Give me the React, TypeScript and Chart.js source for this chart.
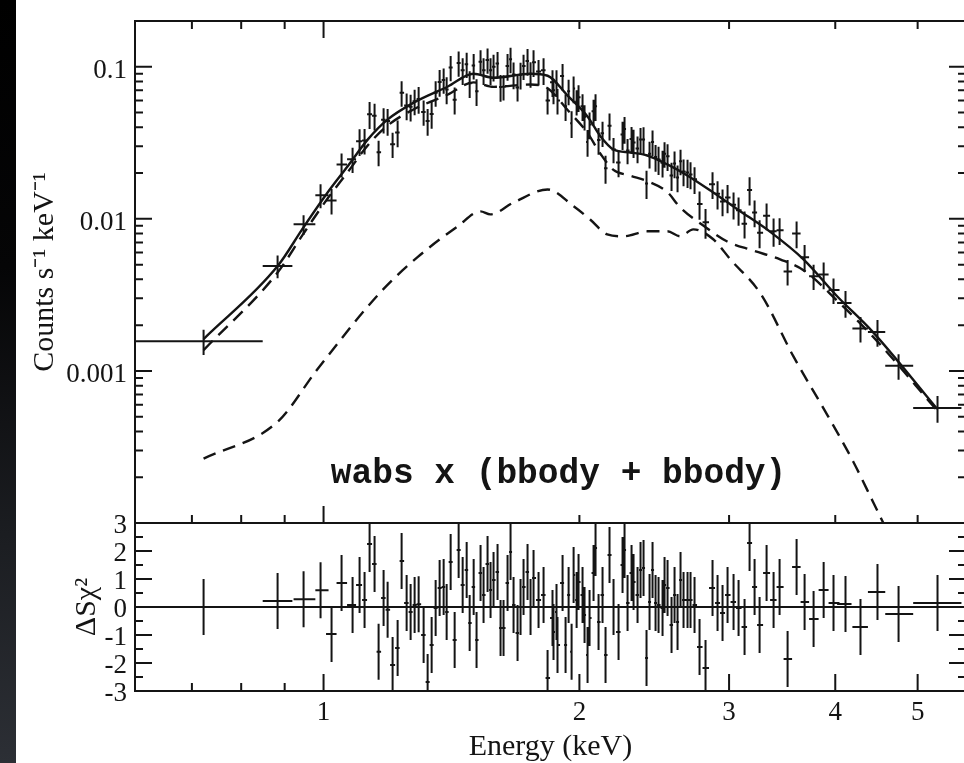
import React, { useEffect, useRef } from "react";
import { Chart, registerables } from "chart.js";

Chart.register(...registerables);

// ---------------- data ----------------
// bin centre energies (keV) shared by the spectrum and the residual panel
const energies = [
  0.7225, 0.8829, 0.9473, 0.9919, 1.0219, 1.05, 1.0818, 1.1025, 1.1175, 1.1328,
  1.1482, 1.1608, 1.1766, 1.1895, 1.2057, 1.2222, 1.2355, 1.2524, 1.266, 1.2798,
  1.2938, 1.3114, 1.3257, 1.3402, 1.3548, 1.3695, 1.3845, 1.3958, 1.411, 1.4264,
  1.4419, 1.4577, 1.4736, 1.4856, 1.5018, 1.5136, 1.5301, 1.5426, 1.5594, 1.5721,
  1.5849, 1.6022, 1.6153, 1.6284, 1.6462, 1.6596, 1.6732, 1.6914, 1.7052, 1.7191,
  1.7378, 1.752, 1.7663, 1.7904, 1.8149, 1.8347, 1.8594, 1.8645, 1.8797, 1.8848,
  1.9108, 1.9264, 1.9423, 1.9581, 1.9688, 1.9849, 1.9953, 2.017, 2.028, 2.0446,
  2.0557, 2.0781, 2.0893, 2.1064, 2.1293, 2.1467, 2.17, 2.1937, 2.2237, 2.2479,
  2.2601, 2.2786, 2.3034, 2.3159, 2.3411, 2.3602, 2.3795, 2.3988, 2.4185, 2.4382,
  2.4582, 2.4782, 2.5052, 2.5188, 2.5394, 2.567, 2.588, 2.6091, 2.6303, 2.6518,
  2.6807, 2.7025, 2.732, 2.7693, 2.8146, 2.8685, 2.9077, 2.9473, 2.9876, 3.0366,
  3.0781, 3.1285, 3.1713, 3.2146, 3.2585, 3.3208, 3.3844, 3.4399, 3.5153, 3.6021,
  3.681, 3.7718, 3.876, 3.9811, 4.1125, 4.2829, 4.4847, 4.7482, 5.2767,
];

// counts s^-1 keV^-1
const counts = [
  0.00157, 0.0049, 0.0092, 0.0143, 0.0132, 0.0228, 0.0247, 0.0324, 0.0327, 0.0488,
  0.0476, 0.0274, 0.0449, 0.044, 0.031, 0.037, 0.0675, 0.0556, 0.0545, 0.0593,
  0.0614, 0.0505, 0.044, 0.049, 0.0675, 0.0795, 0.082, 0.071, 0.099, 0.0608,
  0.106, 0.095, 0.104, 0.078, 0.102, 0.069, 0.108, 0.095, 0.111, 0.095,
  0.1, 0.105, 0.0735, 0.074, 0.101, 0.112, 0.089, 0.073, 0.0887, 0.101,
  0.109, 0.09, 0.107, 0.093, 0.095, 0.06, 0.079, 0.07, 0.079, 0.06,
  0.087, 0.055, 0.069, 0.0425, 0.072, 0.059, 0.063, 0.055, 0.047, 0.032,
  0.0417, 0.051, 0.055, 0.033, 0.0366, 0.0215, 0.041, 0.0286, 0.0235, 0.0359,
  0.039, 0.0282, 0.0335, 0.0318, 0.029, 0.0333, 0.0333, 0.0171, 0.0268, 0.032,
  0.0255, 0.0246, 0.0234, 0.0268, 0.0258, 0.0193, 0.0231, 0.0187, 0.0239, 0.0205,
  0.0202, 0.0196, 0.0182, 0.0125, 0.0095, 0.0169, 0.0146, 0.013, 0.0138, 0.0124,
  0.0114, 0.0093, 0.0155, 0.011, 0.0081, 0.0105, 0.0083, 0.0084, 0.0045, 0.008,
  0.0056, 0.0042, 0.0043, 0.0034, 0.0028, 0.0019, 0.0018, 0.00108, 0.00057,
];

// relative 1-sigma error of each count rate
const countRelErr = [
  0.19, 0.17, 0.15, 0.18, 0.19, 0.18, 0.19, 0.2, 0.19, 0.2,
  0.2, 0.19, 0.19, 0.2, 0.19, 0.2, 0.19, 0.2, 0.2, 0.19,
  0.2, 0.19, 0.2, 0.2, 0.19, 0.2, 0.19, 0.2, 0.19, 0.2,
  0.19, 0.2, 0.19, 0.2, 0.19, 0.2, 0.19, 0.2, 0.19, 0.2,
  0.2, 0.19, 0.2, 0.19, 0.2, 0.19, 0.2, 0.19, 0.2, 0.19,
  0.2, 0.19, 0.2, 0.19, 0.2, 0.19, 0.2, 0.19, 0.2, 0.19,
  0.2, 0.2, 0.19, 0.2, 0.2, 0.19, 0.2, 0.2, 0.19, 0.2,
  0.2, 0.19, 0.2, 0.2, 0.19, 0.21, 0.2, 0.19, 0.2, 0.21,
  0.2, 0.19, 0.2, 0.21, 0.2, 0.19, 0.2, 0.21, 0.2, 0.19,
  0.2, 0.21, 0.2, 0.19, 0.2, 0.21, 0.2, 0.2, 0.19, 0.2,
  0.21, 0.2, 0.2, 0.21, 0.22, 0.2, 0.21, 0.2, 0.21, 0.2,
  0.21, 0.2, 0.21, 0.2, 0.21, 0.2, 0.21, 0.2, 0.19, 0.2,
  0.2, 0.19, 0.2, 0.19, 0.2, 0.19, 0.2, 0.19, 0.2,
];

// residuals (sign(data-model) * delta chi^2), each with unit error
const residuals = [
  0.0, 0.21, 0.28, 0.6, -0.96, 0.86, 0.07, 0.79, 0.25, 2.25,
  1.54, -1.6, 0.32, -0.1, -2.07, -1.46, 1.64, 0.14, -0.18, 0.07,
  0.1, -1.0, -2.68, -1.36, -0.04, 0.68, 0.71, -0.18, 1.61, -1.18,
  2.04, 0.79, 1.32, -0.57, 0.71, -1.18, 1.21, 0.43, 1.54, 0.61,
  0.96, 1.25, -0.75, -0.75, 0.86, 1.96, 0.07, -0.93, 0.0, 0.71,
  1.25, 0.0, 1.04, 0.25, 0.43, -2.54, -0.39, -0.89, -0.18, -1.36,
  0.86, -1.36, 0.43, -1.6, 1.14, 0.25, 0.89, 0.43, -0.29, -1.71,
  -0.39, 1.21, 2.11, -0.54, 0.43, -1.71, 1.86, 0.0, -0.89, 1.5,
  2.04, 0.14, 1.21, 0.89, 0.43, 1.32, 1.39, -1.82, 0.18, 1.32,
  0.14, 0.07, -0.04, 0.79, 0.68, -0.64, 0.43, -0.54, 0.96, 0.25,
  0.25, 0.25, 0.07, -1.43, -2.18, 0.68, 0.14, -0.21, 0.43, 0.18,
  -0.04, -0.71, 2.29, 0.71, -0.64, 1.21, 0.25, 0.71, -1.86, 1.43,
  0.18, -0.43, 0.61, 0.14, 0.11, -0.71, 0.54, -0.25, 0.14,
];
const RESID_SIGMA = 1;

// explicit energy bin edges of the wide bins at both ends
const firstBinEdges = [
  [0.6, 0.848],
  [0.848, 0.919],
  [0.922, 0.978],
  [0.978, 1.0136],
];
const lastBinEdges = [
  [4.02, 4.18],
  [4.19, 4.37],
  [4.37, 4.58],
  [4.58, 4.94],
  [4.94, 5.63],
];

// total model (solid)
const modelE = [
  0.7225, 0.883, 0.947, 1.011, 1.067, 1.127, 1.189, 1.276, 1.399, 1.501, 1.585, 1.752, 1.835, 1.937,
  2.045, 2.118, 2.193, 2.297, 2.404, 2.538, 2.679, 2.874, 3.069, 3.36, 3.67, 4.02, 4.43, 5.27,
];
const modelTotal = [
  0.00162, 0.00489, 0.00879, 0.0149, 0.0221, 0.0332, 0.0449, 0.058, 0.0739, 0.09, 0.0847, 0.09, 0.0873, 0.0646,
  0.047, 0.0348, 0.0286, 0.0273, 0.0261, 0.0228, 0.0193, 0.0149, 0.01154, 0.00815, 0.00542, 0.0031, 0.0018, 0.000563,
];

// first bbody component (upper dashed)
const bbodyAE = [
  0.7225, 0.883, 0.947, 1.011, 1.067, 1.127, 1.189, 1.276, 1.399, 1.501, 1.585, 1.752, 1.835, 1.937, 2.045,
  2.118, 2.193, 2.297, 2.404, 2.538, 2.627, 2.8, 2.985, 3.2, 3.45, 3.67, 4.02, 4.43, 5.27,
];
const bbodyA = [
  0.00137, 0.00444, 0.008, 0.0136, 0.0202, 0.0304, 0.041, 0.0524, 0.0655, 0.079, 0.0738, 0.0765, 0.0722, 0.052, 0.0366,
  0.0267, 0.021, 0.0192, 0.0177, 0.015, 0.0119, 0.009, 0.0071, 0.0062, 0.0054, 0.0046, 0.0029, 0.00168, 0.00055,
];

// second bbody component (lower dashed)
const bbodyBE = [
  0.7225, 0.883, 0.984, 1.167, 1.29, 1.437, 1.53, 1.571, 1.673, 1.835, 1.969, 2.059, 2.157,
  2.253, 2.404, 2.538, 2.627, 2.723, 2.874, 3.01, 3.27, 3.57, 3.92, 4.2, 4.43, 4.7,
];
const bbodyB = [
  0.000265, 0.000463, 0.00103, 0.0033, 0.0056, 0.0089, 0.0112, 0.0107, 0.0128, 0.0156, 0.0121, 0.0099, 0.0079,
  0.00768, 0.00828, 0.00828, 0.00768, 0.00853, 0.00734, 0.00542, 0.0032, 0.00125, 0.000507, 0.000253, 0.000138, 0.00007,
];

// axes
const X_MIN = 0.6;
const X_MAX = 5.7;
const Y_MIN = 1e-4;
const Y_MAX = 0.2;
const R_MIN = -3;
const R_MAX = 3;

const countTickValues = [0.1, 0.01, 0.001];
const countTickLabels = ["0.1", "0.01", "0.001"];
const residTickValues = [3, 2, 1, 0, -1, -2, -3];
const residTickLabels = ["3", "2", "1", "0", "-1", "-2", "-3"];
const energyTickValues = [1, 2, 3, 4, 5];
const energyTickLabels = ["1", "2", "3", "4", "5"];
const energyMinorTicks = [0.7, 0.8, 0.9];
const zeroLineE = [X_MIN, X_MAX];
const zeroLineR = [0, 0];

const annotationText = "wabs x (bbody + bbody)";
const countsTitle = "Counts s\u207B\u00B9 keV\u207B\u00B9";
const residTitle = "\u0394S\u03C7\u00B2";
const energyTitle = "Energy (keV)";

// ---------------- drawing helpers ----------------
const INK = "#141414";
const SERIF = '"Liberation Serif", "Times New Roman", serif';
const MONO = '"Liberation Mono", "Courier New", monospace';
const MAJOR = 17;
const MINOR = 8;

function binEdges(i: number): [number, number] {
  if (i < firstBinEdges.length) return firstBinEdges[i] as [number, number];
  const k = i - (energies.length - lastBinEdges.length);
  if (k >= 0) return lastBinEdges[k] as [number, number];
  return [Math.sqrt(energies[i - 1] * energies[i]), Math.sqrt(energies[i] * energies[i + 1])];
}

function seg(ctx: CanvasRenderingContext2D, x1: number, y1: number, x2: number, y2: number) {
  ctx.moveTo(x1, y1);
  ctx.lineTo(x2, y2);
}

function clipArea(ctx: CanvasRenderingContext2D, a: any) {
  ctx.beginPath();
  ctx.rect(a.left, a.top, a.right - a.left, a.bottom - a.top);
  ctx.clip();
}

const topPlugin = {
  id: "topPanel",
  afterDatasetsDraw(chart: any) {
    const { ctx, chartArea: a, scales } = chart;
    const x = scales.x;
    const y = scales.y;
    ctx.save();
    clipArea(ctx, a);
    ctx.strokeStyle = INK;
    ctx.lineWidth = 2;
    ctx.beginPath();
    energies.forEach((e, i) => {
      const [lo, hi] = binEdges(i);
      const v = counts[i];
      const dv = v * countRelErr[i];
      const px = x.getPixelForValue(e);
      const py = y.getPixelForValue(v);
      seg(ctx, x.getPixelForValue(lo), py, x.getPixelForValue(hi), py);
      seg(ctx, px, y.getPixelForValue(v + dv), px, y.getPixelForValue(v - dv));
    });
    ctx.stroke();
    ctx.restore();
  },
  afterDraw(chart: any) {
    const { ctx, chartArea: a, scales } = chart;
    const x = scales.x;
    const y = scales.y;
    ctx.save();
    ctx.strokeStyle = INK;
    ctx.lineWidth = 2;
    ctx.strokeRect(a.left, a.top, a.right - a.left, a.bottom - a.top);
    ctx.beginPath();
    for (let d = -4; d <= -1; d++) {
      for (let m = 1; m <= 9; m++) {
        const v = m * Math.pow(10, d);
        if (v <= Y_MIN * 1.0001 || v >= Y_MAX) continue;
        const py = y.getPixelForValue(v);
        const len = m === 1 ? MAJOR : MINOR;
        seg(ctx, a.left, py, a.left + len, py);
        seg(ctx, a.right, py, a.right - len, py);
      }
    }
    [...energyMinorTicks, ...energyTickValues].forEach((e) => {
      const px = x.getPixelForValue(e);
      const len = e === 1 ? MAJOR : MINOR;
      seg(ctx, px, a.top, px, a.top + len);
      seg(ctx, px, a.bottom, px, a.bottom - len);
    });
    ctx.stroke();

    ctx.fillStyle = INK;
    ctx.font = `27px ${SERIF}`;
    ctx.textAlign = "right";
    ctx.textBaseline = "alphabetic";
    countTickValues.forEach((v, i) => {
      ctx.fillText(countTickLabels[i], a.left - 8, y.getPixelForValue(v) + 11);
    });

    ctx.save();
    ctx.translate(a.left - 82, (a.top + a.bottom) / 2);
    ctx.rotate(-Math.PI / 2);
    ctx.textAlign = "center";
    ctx.font = `30px ${SERIF}`;
    ctx.fillText(countsTitle, 0, 0);
    ctx.restore();

    ctx.font = `bold 34.5px ${MONO}`;
    ctx.textAlign = "center";
    ctx.fillText(annotationText, x.getPixelForValue(1.89), a.bottom - 40);
    ctx.restore();
  },
};

const residPlugin = {
  id: "residPanel",
  afterDatasetsDraw(chart: any) {
    const { ctx, chartArea: a, scales } = chart;
    const x = scales.x;
    const y = scales.y;
    ctx.save();
    clipArea(ctx, a);
    ctx.strokeStyle = INK;
    ctx.lineWidth = 2;
    ctx.beginPath();
    energies.forEach((e, i) => {
      const [lo, hi] = binEdges(i);
      const r = residuals[i];
      const px = x.getPixelForValue(e);
      const py = y.getPixelForValue(r);
      if (i > 0) seg(ctx, x.getPixelForValue(lo), py, x.getPixelForValue(hi), py);
      seg(ctx, px, y.getPixelForValue(r + RESID_SIGMA), px, y.getPixelForValue(r - RESID_SIGMA));
    });
    ctx.stroke();
    ctx.restore();
  },
  afterDraw(chart: any) {
    const { ctx, chartArea: a, scales } = chart;
    const x = scales.x;
    const y = scales.y;
    ctx.save();
    ctx.strokeStyle = INK;
    ctx.lineWidth = 2;
    ctx.strokeRect(a.left, a.top, a.right - a.left, a.bottom - a.top);
    ctx.beginPath();
    for (let v = R_MIN + 0.5; v < R_MAX; v += 0.5) {
      const py = y.getPixelForValue(v);
      const len = Number.isInteger(v) ? MAJOR : MINOR;
      seg(ctx, a.left, py, a.left + len, py);
      seg(ctx, a.right, py, a.right - len, py);
    }
    energyMinorTicks.forEach((e) => {
      const px = x.getPixelForValue(e);
      seg(ctx, px, a.bottom, px, a.bottom - MINOR);
    });
    energyTickValues.forEach((e) => {
      const px = x.getPixelForValue(e);
      seg(ctx, px, a.bottom, px, a.bottom - MAJOR);
    });
    ctx.stroke();

    ctx.fillStyle = INK;
    ctx.font = `27px ${SERIF}`;
    ctx.textAlign = "right";
    residTickValues.forEach((v, i) => {
      ctx.fillText(residTickLabels[i], a.left - 8, y.getPixelForValue(v) + 10);
    });
    ctx.textAlign = "center";
    energyTickValues.forEach((e, i) => {
      ctx.fillText(energyTickLabels[i], x.getPixelForValue(e), a.bottom + 29);
    });
    ctx.font = `30px ${SERIF}`;
    ctx.fillText(energyTitle, (a.left + a.right) / 2, a.bottom + 64);

    ctx.save();
    ctx.translate(a.left - 40, (a.top + a.bottom) / 2);
    ctx.rotate(-Math.PI / 2);
    ctx.textAlign = "center";
    ctx.font = `30px ${SERIF}`;
    ctx.fillText(residTitle, 0, 0);
    ctx.restore();
    ctx.restore();
  },
};

const pts = (xs: number[], ys: number[]) => xs.map((e, i) => ({ x: e, y: ys[i] }));

const baseOptions = (padding: any, yScale: any) => ({
  responsive: false,
  animation: false as const,
  devicePixelRatio: 1,
  events: [] as any[],
  layout: { padding },
  plugins: { legend: { display: false }, tooltip: { enabled: false }, title: { display: false } },
  scales: {
    x: { type: "logarithmic" as const, min: X_MIN, max: X_MAX, display: false },
    y: yScale,
  },
});

export default function App() {
  const topRef = useRef<HTMLCanvasElement | null>(null);
  const botRef = useRef<HTMLCanvasElement | null>(null);

  useEffect(() => {
    const lineStyle = {
      showLine: true,
      pointRadius: 0,
      borderColor: INK,
      borderWidth: 2.4,
      fill: false,
      cubicInterpolationMode: "monotone" as const,
    };
    const top = new Chart(topRef.current as HTMLCanvasElement, {
      type: "line",
      data: {
        datasets: [
          { label: "data", data: pts(energies, counts), showLine: false, pointRadius: 0 },
          { label: "model", data: pts(modelE, modelTotal), ...lineStyle },
          { label: "bbody 1", data: pts(bbodyAE, bbodyA), ...lineStyle, borderDash: [13, 8] },
          { label: "bbody 2", data: pts(bbodyBE, bbodyB), ...lineStyle, borderDash: [13, 8] },
        ],
      },
      options: baseOptions(
        { left: 135, top: 21, right: 14, bottom: 7 },
        { type: "logarithmic", min: Y_MIN, max: Y_MAX, display: false }
      ) as any,
      plugins: [topPlugin],
    });
    const bot = new Chart(botRef.current as HTMLCanvasElement, {
      type: "line",
      data: {
        datasets: [
          { label: "residuals", data: pts(energies, residuals), showLine: false, pointRadius: 0 },
          { label: "zero", data: pts(zeroLineE, zeroLineR), showLine: true, pointRadius: 0, borderColor: INK, borderWidth: 2.2 },
        ],
      },
      options: baseOptions(
        { left: 135, top: 23, right: 14, bottom: 72 },
        { type: "linear", min: R_MIN, max: R_MAX, display: false }
      ) as any,
      plugins: [residPlugin],
    });
    return () => {
      top.destroy();
      bot.destroy();
    };
  }, []);

  return (
    <div
      style={{
        position: "fixed",
        left: 0,
        top: 0,
        width: 964,
        height: 763,
        overflow: "hidden",
        background: "#ffffff",
      }}
    >
      <div
        style={{
          position: "absolute",
          left: 0,
          top: 0,
          width: 16,
          height: 763,
          background: "linear-gradient(to bottom, #000000 0%, #050506 35%, #1b1d21 70%, #2c2f35 100%)",
        }}
      />
      <canvas ref={topRef} width={980} height={530} style={{ position: "absolute", left: 0, top: 0 }} />
      <canvas ref={botRef} width={980} height={263} style={{ position: "absolute", left: 0, top: 500 }} />
    </div>
  );
}
